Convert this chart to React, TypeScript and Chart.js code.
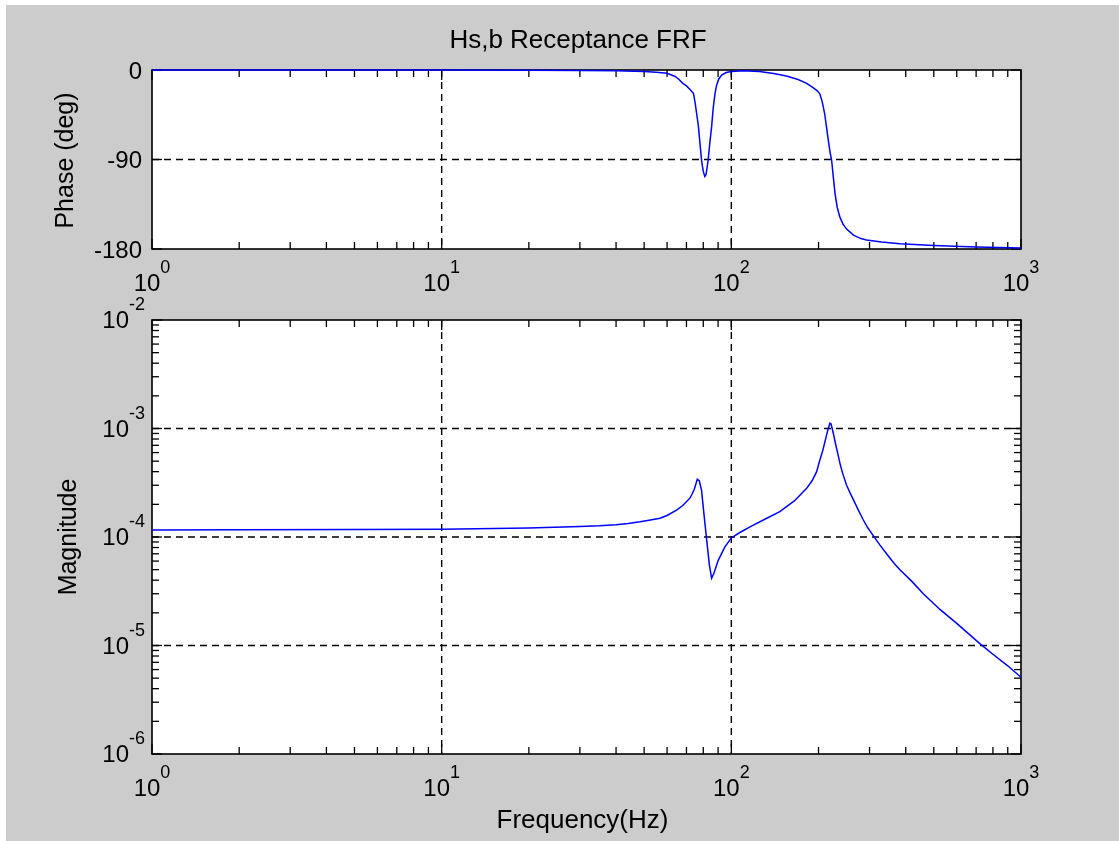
import React, { useEffect, useRef } from "react";
import { Chart, registerables } from "chart.js";

Chart.register(...registerables);

// ---------- data ----------
const phaseFreq = [
  1, 5, 10, 20, 30, 40, 50, 55, 60, 64, 66, 68, 70, 72, 74, 75, 76, 77, 78, 79, 80,
  81, 81.8, 82.5, 83.2, 84.3, 85.5, 86.6, 87.8, 89, 90.5, 92.6, 96, 100, 110, 125,
  140, 155, 170, 182, 192, 198, 202, 206, 210, 213, 216, 219, 222, 225, 228, 232,
  237, 243, 250, 264, 280, 293, 330, 382, 500, 700, 1000,
];
const phaseDeg = [
  0, 0, -0.1, -0.2, -0.4, -0.8, -1.6, -2.2, -3.3, -6.5, -9.5, -13.4, -16, -19.5,
  -23.5, -33, -45, -57, -75, -92, -102, -107, -105, -98, -90, -73, -57, -38, -24, -15,
  -9, -5, -2.5, -1.5, -0.8, -1.5, -3.5, -6, -9.5, -13.4, -18, -21, -24, -32, -44, -57,
  -70, -82, -91, -108, -124, -138, -148, -155, -160, -166, -169.5, -171, -173, -174.6,
  -176.5, -178, -179,
];

const magFreq = [
  1, 2, 5, 10, 20, 30, 35, 40, 44, 48.4, 52, 56.7, 60, 64.7, 68, 71.9, 73, 74.5, 76.3,
  77.5, 78.9, 80.5, 82.2, 84, 85.5, 87, 90.1, 95, 100, 107, 116, 130, 147, 165, 182,
  190, 197, 202, 207, 212, 216, 219, 221, 225, 229, 233, 237, 242, 250, 257, 264, 275,
  285, 295, 309, 325, 345, 365, 382, 420, 460, 525, 600, 660, 721, 800, 900, 1000,
];
const magnitude = [
  1.16e-4, 1.165e-4, 1.17e-4, 1.18e-4, 1.21e-4, 1.25e-4, 1.27e-4, 1.3e-4, 1.33e-4,
  1.38e-4, 1.43e-4, 1.49e-4, 1.58e-4, 1.77e-4, 1.95e-4, 2.28e-4, 2.45e-4, 2.75e-4,
  3.4e-4, 3.3e-4, 2.7e-4, 1.6e-4, 9.4e-5, 5.5e-5, 4.16e-5, 4.6e-5, 6.1e-5, 8.1e-5,
  9.8e-5, 1.1e-4, 1.24e-4, 1.45e-4, 1.71e-4, 2.15e-4, 2.81e-4, 3.3e-4, 4.0e-4, 5.1e-4,
  6.3e-4, 8.2e-4, 1.0e-3, 1.12e-3, 1.1e-3, 9.0e-4, 7.2e-4, 5.9e-4, 4.8e-4, 3.9e-4,
  3.0e-4, 2.55e-4, 2.2e-4, 1.75e-4, 1.45e-4, 1.23e-4, 1.03e-4, 8.5e-5, 6.9e-5, 5.7e-5,
  5.0e-5, 3.9e-5, 3.0e-5, 2.15e-5, 1.6e-5, 1.28e-5, 1.04e-5, 8.3e-6, 6.5e-6, 5.1e-6,
];

const xTickValues = [1, 10, 100, 1000];
const xTickExponents = ["0", "1", "2", "3"];
const phaseTickValues = [-180, -90, 0];
const phaseTickLabels = ["-180", "-90", "0"];
const magTickValues = [1e-6, 1e-5, 1e-4, 1e-3, 1e-2];
const magTickExponents = ["-6", "-5", "-4", "-3", "-2"];

const TITLE = "Hs,b Receptance FRF";
const PHASE_LABEL = "Phase (deg)";
const MAG_LABEL = "Magnitude";
const X_LABEL = "Frequency(Hz)";

// ---------- drawing helpers ----------
const W = 1113;
const H = 836;
const FONT = '"Liberation Sans", Arial, sans-serif';
const BIG = `24px ${FONT}`;
const SMALL = `18px ${FONT}`;
const TITLE_FONT = `26px ${FONT}`;
const YLABEL_FONT = `25px ${FONT}`;
const MAJOR_TICK = 10;
const MINOR_TICK = 7;

function seg(ctx: CanvasRenderingContext2D, x1: number, y1: number, x2: number, y2: number) {
  ctx.beginPath();
  ctx.moveTo(x1, y1);
  ctx.lineTo(x2, y2);
  ctx.stroke();
}

function drawPowX(ctx: CanvasRenderingContext2D, exp: string, cx: number, baseline: number) {
  ctx.font = BIG;
  const w10 = ctx.measureText("10").width;
  ctx.font = SMALL;
  const we = ctx.measureText(exp).width;
  const left = cx - (w10 + we) / 2;
  ctx.textAlign = "left";
  ctx.textBaseline = "alphabetic";
  ctx.font = BIG;
  ctx.fillText("10", left, baseline);
  ctx.font = SMALL;
  ctx.fillText(exp, left + w10, baseline - 18);
}

function drawPowY(ctx: CanvasRenderingContext2D, exp: string, right: number, baseline: number) {
  ctx.font = BIG;
  const w10 = ctx.measureText("10").width;
  ctx.font = SMALL;
  const we = ctx.measureText(exp).width;
  const left = right - w10 - we;
  ctx.textAlign = "left";
  ctx.textBaseline = "alphabetic";
  ctx.font = BIG;
  ctx.fillText("10", left, baseline);
  ctx.font = SMALL;
  ctx.fillText(exp, left + w10, baseline - 18);
}

type PanelCfg = {
  logY: boolean;
  yTicks: number[];
  yLabels: string[];
  drawExtra: (ctx: CanvasRenderingContext2D) => void;
};

function makePlugin(cfg: PanelCfg) {
  return {
    id: "matlabAxes",
    beforeDatasetsDraw(chart: any) {
      const ctx: CanvasRenderingContext2D = chart.ctx;
      const a = chart.chartArea;
      const xs = chart.scales.x;
      const ys = chart.scales.y;
      ctx.save();
      ctx.fillStyle = "#ffffff";
      ctx.fillRect(a.left, a.top, a.right - a.left, a.bottom - a.top);

      // dashed grid at major ticks
      ctx.strokeStyle = "#000000";
      ctx.lineWidth = 1.4;
      ctx.setLineDash([7, 5]);
      for (const v of xTickValues) {
        const px = xs.getPixelForValue(v);
        if (px > a.left + 2 && px < a.right - 2) seg(ctx, px, a.top, px, a.bottom);
      }
      for (const v of cfg.yTicks) {
        const py = ys.getPixelForValue(v);
        if (py > a.top + 2 && py < a.bottom - 2) seg(ctx, a.left, py, a.right, py);
      }
      ctx.setLineDash([]);

      // ticks
      ctx.lineWidth = 1.3;
      for (let d = 0; d < 3; d++) {
        for (let k = 2; k <= 9; k++) {
          const px = xs.getPixelForValue(k * Math.pow(10, d));
          seg(ctx, px, a.bottom, px, a.bottom - MINOR_TICK);
          seg(ctx, px, a.top, px, a.top + MINOR_TICK);
        }
      }
      for (const v of xTickValues) {
        const px = xs.getPixelForValue(v);
        seg(ctx, px, a.bottom, px, a.bottom - MAJOR_TICK);
        seg(ctx, px, a.top, px, a.top + MAJOR_TICK);
      }
      if (cfg.logY) {
        for (let d = -6; d < -2; d++) {
          for (let k = 2; k <= 9; k++) {
            const py = ys.getPixelForValue(k * Math.pow(10, d));
            seg(ctx, a.left, py, a.left + MINOR_TICK, py);
            seg(ctx, a.right, py, a.right - MINOR_TICK, py);
          }
        }
      }
      for (const v of cfg.yTicks) {
        const py = ys.getPixelForValue(v);
        seg(ctx, a.left, py, a.left + MAJOR_TICK, py);
        seg(ctx, a.right, py, a.right - MAJOR_TICK, py);
      }

      // box
      ctx.lineWidth = 1.6;
      ctx.strokeRect(a.left, a.top, a.right - a.left, a.bottom - a.top);

      // tick labels
      ctx.fillStyle = "#000000";
      xTickValues.forEach((v, i) => {
        drawPowX(ctx, xTickExponents[i], xs.getPixelForValue(v), a.bottom + 42);
      });
      cfg.yTicks.forEach((v, i) => {
        const py = ys.getPixelForValue(v);
        if (cfg.logY) {
          drawPowY(ctx, cfg.yLabels[i], a.left - 7, py + 8);
        } else {
          ctx.font = BIG;
          ctx.textAlign = "right";
          ctx.textBaseline = "alphabetic";
          ctx.fillText(cfg.yLabels[i], a.left - 10, py + 8.5);
        }
      });

      cfg.drawExtra(ctx);
      ctx.restore();
    },
  };
}

function drawRotated(ctx: CanvasRenderingContext2D, text: string, baselineX: number, cy: number) {
  ctx.save();
  ctx.translate(baselineX, cy);
  ctx.rotate(-Math.PI / 2);
  ctx.font = YLABEL_FONT;
  ctx.textAlign = "center";
  ctx.textBaseline = "alphabetic";
  ctx.fillStyle = "#000000";
  ctx.fillText(text, 0, 0);
  ctx.restore();
}

export default function App() {
  const topRef = useRef<HTMLCanvasElement | null>(null);
  const botRef = useRef<HTMLCanvasElement | null>(null);

  useEffect(() => {
    if (!topRef.current || !botRef.current) return;

    const common = {
      animation: false as const,
      responsive: false,
      devicePixelRatio: 1,
      events: [] as any[],
      plugins: { legend: { display: false }, tooltip: { enabled: false }, title: { display: false } },
    };

    const topChart = new Chart(topRef.current, {
      type: "line",
      data: {
        datasets: [
          {
            data: phaseFreq.map((f, i) => ({ x: f, y: phaseDeg[i] })),
            borderColor: "#0000ff",
            borderWidth: 1.5,
            pointRadius: 0,
            tension: 0,
            fill: false,
            clip: false as any,
          },
        ],
      },
      options: {
        ...common,
        layout: { padding: { left: 146, top: 65, right: 98, bottom: 592 } },
        scales: {
          x: { type: "logarithmic", min: 1, max: 1000, display: false },
          y: { type: "linear", min: -180, max: 0, display: false },
        },
      } as any,
      plugins: [
        makePlugin({
          logY: false,
          yTicks: phaseTickValues,
          yLabels: phaseTickLabels,
          drawExtra: (ctx) => {
            ctx.font = TITLE_FONT;
            ctx.textAlign = "center";
            ctx.textBaseline = "alphabetic";
            ctx.fillStyle = "#000000";
            ctx.fillText(TITLE, 572, 43);
            drawRotated(ctx, PHASE_LABEL, 67, 155.5);
          },
        }),
      ],
    });

    const botChart = new Chart(botRef.current, {
      type: "line",
      data: {
        datasets: [
          {
            data: magFreq.map((f, i) => ({ x: f, y: magnitude[i] })),
            borderColor: "#0000ff",
            borderWidth: 1.5,
            pointRadius: 0,
            tension: 0,
            fill: false,
            clip: false as any,
          },
        ],
      },
      options: {
        ...common,
        layout: { padding: { left: 146, top: 315, right: 98, bottom: 87 } },
        scales: {
          x: { type: "logarithmic", min: 1, max: 1000, display: false },
          y: { type: "logarithmic", min: 1e-6, max: 1e-2, display: false },
        },
      } as any,
      plugins: [
        makePlugin({
          logY: true,
          yTicks: magTickValues,
          yLabels: magTickExponents,
          drawExtra: (ctx) => {
            ctx.font = TITLE_FONT;
            ctx.textAlign = "center";
            ctx.textBaseline = "alphabetic";
            ctx.fillStyle = "#000000";
            ctx.fillText(X_LABEL, 576.5, 823);
            drawRotated(ctx, MAG_LABEL, 70, 532);
          },
        }),
      ],
    });

    return () => {
      topChart.destroy();
      botChart.destroy();
    };
  }, []);

  return (
    <div
      style={{
        position: "absolute",
        left: 6,
        top: 5,
        width: W,
        height: H,
        background: "#cccccc",
        overflow: "hidden",
      }}
    >
      <canvas ref={topRef} width={W} height={H} style={{ position: "absolute", left: 0, top: 0 }} />
      <canvas ref={botRef} width={W} height={H} style={{ position: "absolute", left: 0, top: 0 }} />
    </div>
  );
}
